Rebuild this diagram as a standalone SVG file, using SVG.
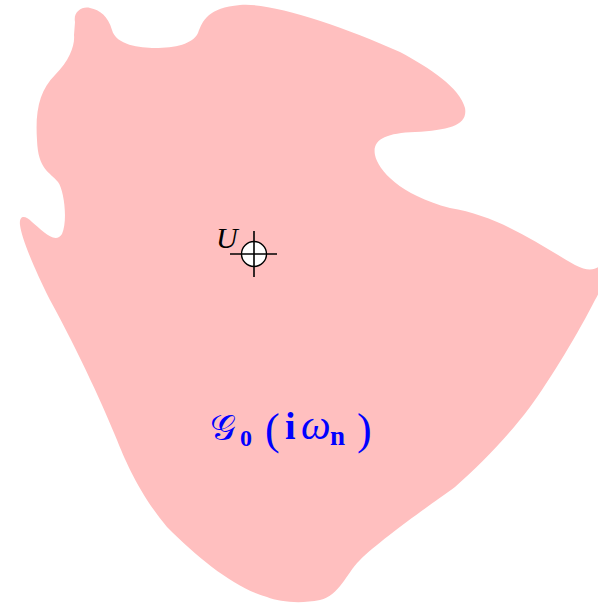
<svg xmlns="http://www.w3.org/2000/svg" width="598" height="606" viewBox="0 0 598 606">
<style>
.region{fill:#ffbfbf;stroke:none}
.lbl{font-family:"Liberation Serif","DejaVu Serif",serif;fill:#0000ff}
.u{font-family:"Liberation Serif","DejaVu Serif",serif;font-style:italic;font-size:30px;fill:#000}
.cross{stroke:#000;stroke-width:1.6;fill:none}
</style>
<rect width="598" height="606" fill="#fff"/>
<g id="region">
<path class="region" d="M 75,22 C 73,12 82,6 90,8 C 100,10 108,16 112,30 C 116,45 140,48 155,48 C 175,48 193,44 198,33 C 203,20 208,8 240,5 C 270,2 340,25 400,52 C 430,68 460,88 465,108 C 468,125 450,130 415,132 C 385,133 372,140 375,155 C 378,170 400,195 450,208 C 500,216 540,245 575,265 C 590,273 597,268 600,266 L 602,285 C 600,290 598,295 595,300 C 580,330 550,380 530,407 C 505,440 480,465 455,487 C 430,505 380,540 360,560 C 345,575 340,595 320,600 C 300,604 280,602 267,597 C 235,588 200,560 167,527 C 140,495 125,460 117,440 C 105,410 80,355 50,300 C 35,270 22,240 20,225 C 19,215 25,215 32,222 C 42,230 55,245 62,234 C 68,220 64,190 58,182 C 50,172 38,170 37,140 C 35,110 40,90 55,75 C 70,60 75,45 74,35 Z"/>
</g>
<g id="U">
<text class="u" x="216" y="248">U</text>
<circle cx="254" cy="254" r="12.5" fill="#fff" stroke="#000" stroke-width="1.4"/>
<line class="cross" x1="230" y1="254" x2="277" y2="254"/>
<line class="cross" x1="254" y1="231" x2="254" y2="277"/>
</g>
<g id="G0">
<text class="lbl" y="440">
<tspan x="210" y="440" style="font-family:'DejaVu Sans',serif;font-size:36px">𝒢</tspan><tspan x="240" y="446" style="font-weight:bold;font-size:24px">0</tspan><tspan x="265" y="444" style="font-size:44px">(</tspan><tspan x="285" y="439" style="font-weight:bold;font-size:38px">i</tspan><tspan x="301" y="439" style="font-style:italic;font-size:42px">ω</tspan><tspan x="330" y="445" style="font-weight:bold;font-size:27px">n</tspan><tspan x="357" y="444" style="font-size:44px">)</tspan>
</text>
</g>
</svg>
